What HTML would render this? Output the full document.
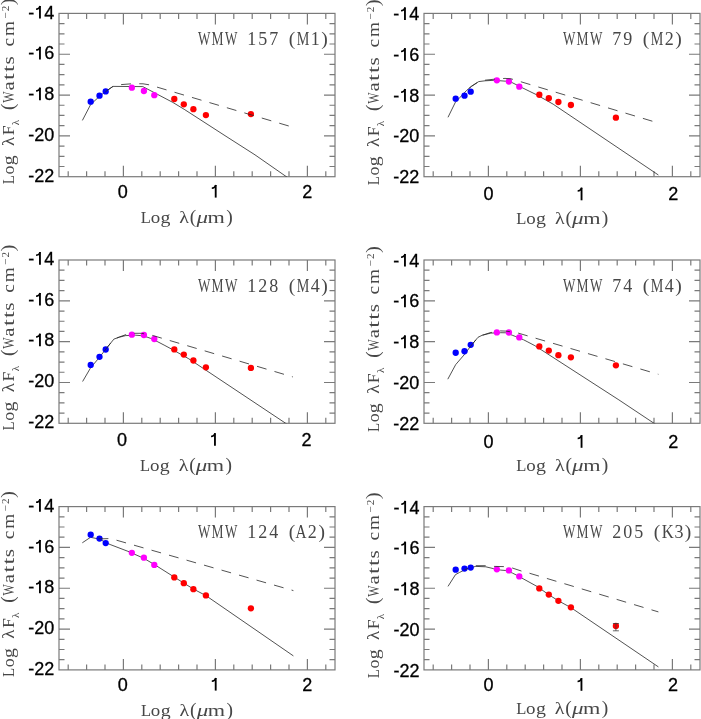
<!DOCTYPE html>
<html><head><meta charset="utf-8"><title>SED panels</title>
<style>
html,body{margin:0;padding:0;background:#fff;}
body{width:701px;height:719px;overflow:hidden;position:relative;}
svg{position:absolute;left:0;top:0;display:block;will-change:transform;}
.tl{font-family:"Liberation Sans",sans-serif;font-size:18px;fill:#000;stroke:#000;stroke-width:0.3px;}
.sf{font-family:"Liberation Serif",serif;fill:#474747;}
</style></head><body>
<svg width="701" height="719" viewBox="0 0 701 719">
<rect x="0" y="0" width="701" height="719" fill="#fff"/>
<clipPath id="cp0"><rect x="59" y="13.4" width="276" height="163.3"/></clipPath>
<clipPath id="cp1"><rect x="424" y="13.4" width="276" height="163.3"/></clipPath>
<clipPath id="cp2"><rect x="59" y="260" width="276" height="163.3"/></clipPath>
<clipPath id="cp3"><rect x="424" y="260" width="276" height="163.3"/></clipPath>
<clipPath id="cp4"><rect x="59" y="506.6" width="276" height="163.3"/></clipPath>
<clipPath id="cp5"><rect x="424" y="506.6" width="276" height="163.3"/></clipPath>
<g><rect x="59" y="13.4" width="276" height="163.3" fill="none" stroke="#7a7a7a" stroke-width="1.2"/><path d="M68.2 176.7v-5.5M68.2 13.4v5.5M86.6 176.7v-5.5M86.6 13.4v5.5M105 176.7v-5.5M105 13.4v5.5M123.4 176.7v-11M123.4 13.4v11M141.8 176.7v-5.5M141.8 13.4v5.5M160.2 176.7v-5.5M160.2 13.4v5.5M178.6 176.7v-5.5M178.6 13.4v5.5M197 176.7v-5.5M197 13.4v5.5M215.4 176.7v-11M215.4 13.4v11M233.8 176.7v-5.5M233.8 13.4v5.5M252.2 176.7v-5.5M252.2 13.4v5.5M270.6 176.7v-5.5M270.6 13.4v5.5M289 176.7v-5.5M289 13.4v5.5M307.4 176.7v-11M307.4 13.4v11M325.8 176.7v-5.5M325.8 13.4v5.5M59 23.61h5.5M335 23.61h-5.5M59 33.81h5.5M335 33.81h-5.5M59 44.02h5.5M335 44.02h-5.5M59 54.23h11M335 54.23h-11M59 64.43h5.5M335 64.43h-5.5M59 74.64h5.5M335 74.64h-5.5M59 84.84h5.5M335 84.84h-5.5M59 95.05h11M335 95.05h-11M59 105.26h5.5M335 105.26h-5.5M59 115.46h5.5M335 115.46h-5.5M59 125.67h5.5M335 125.67h-5.5M59 135.88h11M335 135.88h-11M59 146.08h5.5M335 146.08h-5.5M59 156.29h5.5M335 156.29h-5.5M59 166.49h5.5M335 166.49h-5.5" stroke="#7a7a7a" stroke-width="1.2" fill="none"/></g>
<text class="tl" x="28.3" y="18.6">-</text><path d="M39.95 6V18.6" stroke="#000" stroke-width="1.85" fill="none"/><path d="M36.05 9.25C37.75 9.15 39.35 8.4 40.15 6.05" stroke="#000" stroke-width="1.55" fill="none"/><text class="tl" x="54.3" y="18.6" text-anchor="end">4</text>
<text class="tl" x="28.3" y="59.43">-</text><path d="M39.95 46.83V59.43" stroke="#000" stroke-width="1.85" fill="none"/><path d="M36.05 50.08C37.75 49.98 39.35 49.23 40.15 46.88" stroke="#000" stroke-width="1.55" fill="none"/><text class="tl" x="54.3" y="59.43" text-anchor="end">6</text>
<text class="tl" x="28.3" y="100.25">-</text><path d="M39.95 87.65V100.25" stroke="#000" stroke-width="1.85" fill="none"/><path d="M36.05 90.9C37.75 90.8 39.35 90.05 40.15 87.7" stroke="#000" stroke-width="1.55" fill="none"/><text class="tl" x="54.3" y="100.25" text-anchor="end">8</text>
<text class="tl" x="54.3" y="141.07" text-anchor="end">-20</text>
<text class="tl" x="54.3" y="181.9" text-anchor="end">-22</text>
<text class="tl" x="122.7" y="197.6" text-anchor="middle">0</text>
<path d="M215.7 185V197.6" stroke="#000" stroke-width="1.85" fill="none"/><path d="M211.8 188.25C213.5 188.15 215.1 187.4 215.9 185.05" stroke="#000" stroke-width="1.55" fill="none"/>
<text class="tl" x="307.3" y="197.6" text-anchor="middle">2</text>
<polyline clip-path="url(#cp0)" points="82.4,120.4 90.6,104.6 99.5,96.3 105.7,91.5 113,86.4 142.8,86.6 157.4,94.3 172.8,102.4 184.8,109.7 226,136.3 255,154.85 286.1,176.5 293.5,181.7" fill="none" stroke="#262626" stroke-width="0.8" stroke-linejoin="round"/>
<circle cx="90.7" cy="101.7" r="3.15" fill="#0000ff"/><circle cx="99.5" cy="95.7" r="3.15" fill="#0000ff"/><circle cx="105.7" cy="91.4" r="3.15" fill="#0000ff"/><circle cx="250.9" cy="114.1" r="3.15" fill="#ff0000"/><circle cx="131.85" cy="87.7" r="3.15" fill="#ff00ff"/><circle cx="143.9" cy="91" r="3.15" fill="#ff00ff"/><circle cx="154.3" cy="95.2" r="3.15" fill="#ff00ff"/><circle cx="174.3" cy="99" r="3.15" fill="#ff0000"/><circle cx="183.8" cy="104.3" r="3.15" fill="#ff0000"/><circle cx="193.4" cy="109.2" r="3.15" fill="#ff0000"/><circle cx="205.9" cy="115.1" r="3.15" fill="#ff0000"/>
<polyline clip-path="url(#cp0)" points="103.3,94.6 105.7,91.5 113,86.4 121.1,84.6 133,83.7 143,83.8 149.2,84.8 289.5,126.2" fill="none" stroke="#262626" stroke-width="0.8" stroke-dasharray="9.9 8.3" stroke-dashoffset="15.28"/>
<text class="sf" font-size="18" x="198.1" y="45.2" textLength="12.4" lengthAdjust="spacingAndGlyphs">W</text><text class="sf" font-size="18" x="211.5" y="45.2" textLength="12" lengthAdjust="spacingAndGlyphs">M</text><text class="sf" font-size="18" x="225" y="45.2" textLength="12.4" lengthAdjust="spacingAndGlyphs">W</text><text class="sf" font-size="18" x="251.75" y="45.2" text-anchor="middle">1</text><text class="sf" font-size="18" x="262.75" y="45.2" text-anchor="middle">5</text><text class="sf" font-size="18" x="273.75" y="45.2" text-anchor="middle">7</text><text class="sf" font-size="19.5" x="292" y="45.2" text-anchor="middle">(</text><text class="sf" font-size="18" x="296.7" y="45.2" textLength="12.6" lengthAdjust="spacingAndGlyphs">M</text><text class="sf" font-size="18" x="315.3" y="45.2" text-anchor="middle">1</text><text class="sf" font-size="19.5" x="324.4" y="45.2" text-anchor="middle">)</text>
<text class="sf" font-size="17.5" x="140.75" y="222.7" textLength="10.1" lengthAdjust="spacingAndGlyphs">L</text><text class="sf" font-size="17.5" x="150.67" y="222.7" textLength="9.46" lengthAdjust="spacingAndGlyphs">o</text><text class="sf" font-size="17.5" x="160.45" y="222.7" textLength="9.9" lengthAdjust="spacingAndGlyphs">g</text><text class="sf" font-size="17.5" x="179.37" y="222.7" textLength="9.66" lengthAdjust="spacingAndGlyphs">λ</text><text class="sf" font-size="19.5" x="193.1" y="222.7" text-anchor="middle">(</text><text class="sf" font-size="17.5" x="196.52" y="222.7" font-style="italic" textLength="11.56" lengthAdjust="spacingAndGlyphs">μ</text><text class="sf" font-size="17.5" x="207.55" y="222.7" textLength="17.3" lengthAdjust="spacingAndGlyphs">m</text><text class="sf" font-size="19.5" x="229.5" y="222.7" text-anchor="middle">)</text>
<g transform="translate(14 183.7) rotate(-90)"><text class="sf" font-size="17.5" x="-0.58" y="0" textLength="9.16" lengthAdjust="spacingAndGlyphs">L</text><text class="sf" font-size="17.5" x="9.23" y="0" textLength="8.93" lengthAdjust="spacingAndGlyphs">o</text><text class="sf" font-size="17.5" x="18.35" y="0" textLength="10" lengthAdjust="spacingAndGlyphs">g</text><text class="sf" font-size="17.5" x="37.69" y="0" textLength="9.12" lengthAdjust="spacingAndGlyphs">λ</text><text class="sf" font-size="17.5" x="48.33" y="0" textLength="9.84" lengthAdjust="spacingAndGlyphs">F</text><text class="sf" font-size="19.5" x="77" y="0" text-anchor="middle">(</text><text class="sf" font-size="17.5" x="81" y="0" textLength="11.3" lengthAdjust="spacingAndGlyphs">W</text><text class="sf" font-size="17.5" x="93.19" y="0" textLength="9.23" lengthAdjust="spacingAndGlyphs">a</text><text class="sf" font-size="17.5" x="103.82" y="0" textLength="6.76" lengthAdjust="spacingAndGlyphs">t</text><text class="sf" font-size="17.5" x="111.82" y="0" textLength="6.76" lengthAdjust="spacingAndGlyphs">t</text><text class="sf" font-size="17.5" x="119.2" y="0" textLength="8.3" lengthAdjust="spacingAndGlyphs">s</text><text class="sf" font-size="17.5" x="137.1" y="0" textLength="8.49" lengthAdjust="spacingAndGlyphs">c</text><text class="sf" font-size="17.5" x="147.61" y="0" textLength="14.88" lengthAdjust="spacingAndGlyphs">m</text><text class="sf" font-size="19.5" x="181.9" y="0" text-anchor="middle">)</text>
<text class="sf" font-size="11" x="61.2" y="4.5" text-anchor="middle">λ</text>
<text class="sf" font-size="11" x="168" y="-5.2" text-anchor="middle">−</text><text class="sf" font-size="11" x="175.2" y="-5.2" text-anchor="middle">2</text>
</g>
<g><rect x="424" y="13.4" width="276" height="163.3" fill="none" stroke="#7a7a7a" stroke-width="1.2"/><path d="M433.2 176.7v-5.5M433.2 13.4v5.5M451.6 176.7v-5.5M451.6 13.4v5.5M470 176.7v-5.5M470 13.4v5.5M488.4 176.7v-11M488.4 13.4v11M506.8 176.7v-5.5M506.8 13.4v5.5M525.2 176.7v-5.5M525.2 13.4v5.5M543.6 176.7v-5.5M543.6 13.4v5.5M562 176.7v-5.5M562 13.4v5.5M580.4 176.7v-11M580.4 13.4v11M598.8 176.7v-5.5M598.8 13.4v5.5M617.2 176.7v-5.5M617.2 13.4v5.5M635.6 176.7v-5.5M635.6 13.4v5.5M654 176.7v-5.5M654 13.4v5.5M672.4 176.7v-11M672.4 13.4v11M690.8 176.7v-5.5M690.8 13.4v5.5M424 23.61h5.5M700 23.61h-5.5M424 33.81h5.5M700 33.81h-5.5M424 44.02h5.5M700 44.02h-5.5M424 54.23h11M700 54.23h-11M424 64.43h5.5M700 64.43h-5.5M424 74.64h5.5M700 74.64h-5.5M424 84.84h5.5M700 84.84h-5.5M424 95.05h11M700 95.05h-11M424 105.26h5.5M700 105.26h-5.5M424 115.46h5.5M700 115.46h-5.5M424 125.67h5.5M700 125.67h-5.5M424 135.88h11M700 135.88h-11M424 146.08h5.5M700 146.08h-5.5M424 156.29h5.5M700 156.29h-5.5M424 166.49h5.5M700 166.49h-5.5" stroke="#7a7a7a" stroke-width="1.2" fill="none"/></g>
<text class="tl" x="393.3" y="20">-</text><path d="M404.95 7.4V20" stroke="#000" stroke-width="1.85" fill="none"/><path d="M401.05 10.65C402.75 10.55 404.35 9.8 405.15 7.45" stroke="#000" stroke-width="1.55" fill="none"/><text class="tl" x="419.3" y="20" text-anchor="end">4</text>
<text class="tl" x="393.3" y="60.83">-</text><path d="M404.95 48.23V60.83" stroke="#000" stroke-width="1.85" fill="none"/><path d="M401.05 51.48C402.75 51.38 404.35 50.62 405.15 48.28" stroke="#000" stroke-width="1.55" fill="none"/><text class="tl" x="419.3" y="60.83" text-anchor="end">6</text>
<text class="tl" x="393.3" y="101.65">-</text><path d="M404.95 89.05V101.65" stroke="#000" stroke-width="1.85" fill="none"/><path d="M401.05 92.3C402.75 92.2 404.35 91.45 405.15 89.1" stroke="#000" stroke-width="1.55" fill="none"/><text class="tl" x="419.3" y="101.65" text-anchor="end">8</text>
<text class="tl" x="419.3" y="142.47" text-anchor="end">-20</text>
<text class="tl" x="419.3" y="183.3" text-anchor="end">-22</text>
<text class="tl" x="488.55" y="200.3" text-anchor="middle">0</text>
<path d="M581.55 187.7V200.3" stroke="#000" stroke-width="1.85" fill="none"/><path d="M577.65 190.95C579.35 190.85 580.95 190.1 581.75 187.75" stroke="#000" stroke-width="1.55" fill="none"/>
<text class="tl" x="673.15" y="200.3" text-anchor="middle">2</text>
<polyline clip-path="url(#cp1)" points="448,117.3 455.5,102 460.1,97.3 466.5,90.5 471.5,86.3 478.7,81.6 485,80.8 494.3,80.3 505.7,81.2 512.1,82.6 517.1,85.1 522.8,88 529.9,91.5 536.1,94.5 553.2,104.2 658.4,175" fill="none" stroke="#262626" stroke-width="0.8" stroke-linejoin="round"/>
<circle cx="455.7" cy="98.7" r="3.15" fill="#0000ff"/><circle cx="464.5" cy="95.7" r="3.15" fill="#0000ff"/><circle cx="470.7" cy="91.7" r="3.15" fill="#0000ff"/><circle cx="615.9" cy="117.7" r="3.15" fill="#ff0000"/><circle cx="496.85" cy="80.3" r="3.15" fill="#ff00ff"/><circle cx="508.9" cy="81.5" r="3.15" fill="#ff00ff"/><circle cx="519.3" cy="86.7" r="3.15" fill="#ff00ff"/><circle cx="539.3" cy="94.75" r="3.15" fill="#ff0000"/><circle cx="548.8" cy="98.25" r="3.15" fill="#ff0000"/><circle cx="558.4" cy="102" r="3.15" fill="#ff0000"/><circle cx="570.9" cy="105" r="3.15" fill="#ff0000"/>
<polyline clip-path="url(#cp1)" points="466.5,90.5 471.5,86.3 478.7,81.6 485,80.2 496,79 505,78.4 511,78.8 654,121.7" fill="none" stroke="#262626" stroke-width="0.8" stroke-dasharray="9.9 8.3" stroke-dashoffset="14.82"/>
<text class="sf" font-size="18" x="563.1" y="45.2" textLength="12.4" lengthAdjust="spacingAndGlyphs">W</text><text class="sf" font-size="18" x="576.5" y="45.2" textLength="12" lengthAdjust="spacingAndGlyphs">M</text><text class="sf" font-size="18" x="590" y="45.2" textLength="12.4" lengthAdjust="spacingAndGlyphs">W</text><text class="sf" font-size="18" x="616.75" y="45.2" text-anchor="middle">7</text><text class="sf" font-size="18" x="627.75" y="45.2" text-anchor="middle">9</text><text class="sf" font-size="19.5" x="646" y="45.2" text-anchor="middle">(</text><text class="sf" font-size="18" x="650.7" y="45.2" textLength="12.6" lengthAdjust="spacingAndGlyphs">M</text><text class="sf" font-size="18" x="669.3" y="45.2" text-anchor="middle">2</text><text class="sf" font-size="19.5" x="678.4" y="45.2" text-anchor="middle">)</text>
<text class="sf" font-size="17.5" x="516.35" y="223.7" textLength="10.1" lengthAdjust="spacingAndGlyphs">L</text><text class="sf" font-size="17.5" x="526.27" y="223.7" textLength="9.46" lengthAdjust="spacingAndGlyphs">o</text><text class="sf" font-size="17.5" x="536.05" y="223.7" textLength="9.9" lengthAdjust="spacingAndGlyphs">g</text><text class="sf" font-size="17.5" x="554.97" y="223.7" textLength="9.66" lengthAdjust="spacingAndGlyphs">λ</text><text class="sf" font-size="19.5" x="568.7" y="223.7" text-anchor="middle">(</text><text class="sf" font-size="17.5" x="572.12" y="223.7" font-style="italic" textLength="11.56" lengthAdjust="spacingAndGlyphs">μ</text><text class="sf" font-size="17.5" x="583.15" y="223.7" textLength="17.3" lengthAdjust="spacingAndGlyphs">m</text><text class="sf" font-size="19.5" x="605.1" y="223.7" text-anchor="middle">)</text>
<g transform="translate(379.2 184.7) rotate(-90)"><text class="sf" font-size="17.5" x="-0.58" y="0" textLength="9.16" lengthAdjust="spacingAndGlyphs">L</text><text class="sf" font-size="17.5" x="9.23" y="0" textLength="8.93" lengthAdjust="spacingAndGlyphs">o</text><text class="sf" font-size="17.5" x="18.35" y="0" textLength="10" lengthAdjust="spacingAndGlyphs">g</text><text class="sf" font-size="17.5" x="37.69" y="0" textLength="9.12" lengthAdjust="spacingAndGlyphs">λ</text><text class="sf" font-size="17.5" x="48.33" y="0" textLength="9.84" lengthAdjust="spacingAndGlyphs">F</text><text class="sf" font-size="19.5" x="77" y="0" text-anchor="middle">(</text><text class="sf" font-size="17.5" x="81" y="0" textLength="11.3" lengthAdjust="spacingAndGlyphs">W</text><text class="sf" font-size="17.5" x="93.19" y="0" textLength="9.23" lengthAdjust="spacingAndGlyphs">a</text><text class="sf" font-size="17.5" x="103.82" y="0" textLength="6.76" lengthAdjust="spacingAndGlyphs">t</text><text class="sf" font-size="17.5" x="111.82" y="0" textLength="6.76" lengthAdjust="spacingAndGlyphs">t</text><text class="sf" font-size="17.5" x="119.2" y="0" textLength="8.3" lengthAdjust="spacingAndGlyphs">s</text><text class="sf" font-size="17.5" x="137.1" y="0" textLength="8.49" lengthAdjust="spacingAndGlyphs">c</text><text class="sf" font-size="17.5" x="147.61" y="0" textLength="14.88" lengthAdjust="spacingAndGlyphs">m</text><text class="sf" font-size="19.5" x="181.9" y="0" text-anchor="middle">)</text>
<text class="sf" font-size="11" x="61.2" y="4.5" text-anchor="middle">λ</text>
<text class="sf" font-size="11" x="168" y="-5.2" text-anchor="middle">−</text><text class="sf" font-size="11" x="175.2" y="-5.2" text-anchor="middle">2</text>
</g>
<g><rect x="59" y="260" width="276" height="163.3" fill="none" stroke="#7a7a7a" stroke-width="1.2"/><path d="M68.2 423.3v-5.5M68.2 260v5.5M86.6 423.3v-5.5M86.6 260v5.5M105 423.3v-5.5M105 260v5.5M123.4 423.3v-11M123.4 260v11M141.8 423.3v-5.5M141.8 260v5.5M160.2 423.3v-5.5M160.2 260v5.5M178.6 423.3v-5.5M178.6 260v5.5M197 423.3v-5.5M197 260v5.5M215.4 423.3v-11M215.4 260v11M233.8 423.3v-5.5M233.8 260v5.5M252.2 423.3v-5.5M252.2 260v5.5M270.6 423.3v-5.5M270.6 260v5.5M289 423.3v-5.5M289 260v5.5M307.4 423.3v-11M307.4 260v11M325.8 423.3v-5.5M325.8 260v5.5M59 270.21h5.5M335 270.21h-5.5M59 280.41h5.5M335 280.41h-5.5M59 290.62h5.5M335 290.62h-5.5M59 300.82h11M335 300.82h-11M59 311.03h5.5M335 311.03h-5.5M59 321.24h5.5M335 321.24h-5.5M59 331.44h5.5M335 331.44h-5.5M59 341.65h11M335 341.65h-11M59 351.86h5.5M335 351.86h-5.5M59 362.06h5.5M335 362.06h-5.5M59 372.27h5.5M335 372.27h-5.5M59 382.48h11M335 382.48h-11M59 392.68h5.5M335 392.68h-5.5M59 402.89h5.5M335 402.89h-5.5M59 413.09h5.5M335 413.09h-5.5" stroke="#7a7a7a" stroke-width="1.2" fill="none"/></g>
<text class="tl" x="28.3" y="264.7">-</text><path d="M39.95 252.1V264.7" stroke="#000" stroke-width="1.85" fill="none"/><path d="M36.05 255.35C37.75 255.25 39.35 254.5 40.15 252.15" stroke="#000" stroke-width="1.55" fill="none"/><text class="tl" x="54.3" y="264.7" text-anchor="end">4</text>
<text class="tl" x="28.3" y="305.52">-</text><path d="M39.95 292.92V305.52" stroke="#000" stroke-width="1.85" fill="none"/><path d="M36.05 296.17C37.75 296.07 39.35 295.32 40.15 292.97" stroke="#000" stroke-width="1.55" fill="none"/><text class="tl" x="54.3" y="305.52" text-anchor="end">6</text>
<text class="tl" x="28.3" y="346.35">-</text><path d="M39.95 333.75V346.35" stroke="#000" stroke-width="1.85" fill="none"/><path d="M36.05 337C37.75 336.9 39.35 336.15 40.15 333.8" stroke="#000" stroke-width="1.55" fill="none"/><text class="tl" x="54.3" y="346.35" text-anchor="end">8</text>
<text class="tl" x="54.3" y="387.18" text-anchor="end">-20</text>
<text class="tl" x="54.3" y="428" text-anchor="end">-22</text>
<text class="tl" x="121.95" y="445.8" text-anchor="middle">0</text>
<path d="M214.95 433.2V445.8" stroke="#000" stroke-width="1.85" fill="none"/><path d="M211.05 436.45C212.75 436.35 214.35 435.6 215.15 433.25" stroke="#000" stroke-width="1.55" fill="none"/>
<text class="tl" x="306.55" y="445.8" text-anchor="middle">2</text>
<polyline clip-path="url(#cp2)" points="82.6,381.5 90.6,367.8 99.4,357.4 105.9,349 113.9,339.1 119.3,337.2 125.7,335.6 135.7,335.2 140.7,335.6 147.1,337.1 150.7,338.4 157.8,341.8 164.9,345.5 171.6,349.1 188.8,358.8 293.5,428.5" fill="none" stroke="#262626" stroke-width="0.8" stroke-linejoin="round"/>
<circle cx="90.7" cy="364.9" r="3.15" fill="#0000ff"/><circle cx="99.5" cy="356.8" r="3.15" fill="#0000ff"/><circle cx="105.7" cy="349.5" r="3.15" fill="#0000ff"/><circle cx="250.9" cy="367.9" r="3.15" fill="#ff0000"/><circle cx="131.85" cy="334.7" r="3.15" fill="#ff00ff"/><circle cx="143.9" cy="335" r="3.15" fill="#ff00ff"/><circle cx="154.3" cy="339" r="3.15" fill="#ff00ff"/><circle cx="174.3" cy="349.4" r="3.15" fill="#ff0000"/><circle cx="183.8" cy="354.6" r="3.15" fill="#ff0000"/><circle cx="193.4" cy="360.5" r="3.15" fill="#ff0000"/><circle cx="205.9" cy="367.3" r="3.15" fill="#ff0000"/>
<polyline clip-path="url(#cp2)" points="99.4,357.4 105.9,349 113.9,339.1 119.3,337 126,334.6 134.3,333.3 141.4,333.3 151.4,335.1 292.8,376.9" fill="none" stroke="#262626" stroke-width="0.8" stroke-dasharray="9.9 8.3" stroke-dashoffset="9.94"/>
<text class="sf" font-size="18" x="198.1" y="291.8" textLength="12.4" lengthAdjust="spacingAndGlyphs">W</text><text class="sf" font-size="18" x="211.5" y="291.8" textLength="12" lengthAdjust="spacingAndGlyphs">M</text><text class="sf" font-size="18" x="225" y="291.8" textLength="12.4" lengthAdjust="spacingAndGlyphs">W</text><text class="sf" font-size="18" x="251.75" y="291.8" text-anchor="middle">1</text><text class="sf" font-size="18" x="262.75" y="291.8" text-anchor="middle">2</text><text class="sf" font-size="18" x="273.75" y="291.8" text-anchor="middle">8</text><text class="sf" font-size="19.5" x="292" y="291.8" text-anchor="middle">(</text><text class="sf" font-size="18" x="296.7" y="291.8" textLength="12.6" lengthAdjust="spacingAndGlyphs">M</text><text class="sf" font-size="18" x="315.3" y="291.8" text-anchor="middle">4</text><text class="sf" font-size="19.5" x="324.4" y="291.8" text-anchor="middle">)</text>
<text class="sf" font-size="17.5" x="140.05" y="470.8" textLength="10.1" lengthAdjust="spacingAndGlyphs">L</text><text class="sf" font-size="17.5" x="149.97" y="470.8" textLength="9.46" lengthAdjust="spacingAndGlyphs">o</text><text class="sf" font-size="17.5" x="159.75" y="470.8" textLength="9.9" lengthAdjust="spacingAndGlyphs">g</text><text class="sf" font-size="17.5" x="178.67" y="470.8" textLength="9.66" lengthAdjust="spacingAndGlyphs">λ</text><text class="sf" font-size="19.5" x="192.4" y="470.8" text-anchor="middle">(</text><text class="sf" font-size="17.5" x="195.82" y="470.8" font-style="italic" textLength="11.56" lengthAdjust="spacingAndGlyphs">μ</text><text class="sf" font-size="17.5" x="206.85" y="470.8" textLength="17.3" lengthAdjust="spacingAndGlyphs">m</text><text class="sf" font-size="19.5" x="228.8" y="470.8" text-anchor="middle">)</text>
<g transform="translate(14 429.85) rotate(-90)"><text class="sf" font-size="17.5" x="-0.58" y="0" textLength="9.16" lengthAdjust="spacingAndGlyphs">L</text><text class="sf" font-size="17.5" x="9.23" y="0" textLength="8.93" lengthAdjust="spacingAndGlyphs">o</text><text class="sf" font-size="17.5" x="18.35" y="0" textLength="10" lengthAdjust="spacingAndGlyphs">g</text><text class="sf" font-size="17.5" x="37.69" y="0" textLength="9.12" lengthAdjust="spacingAndGlyphs">λ</text><text class="sf" font-size="17.5" x="48.33" y="0" textLength="9.84" lengthAdjust="spacingAndGlyphs">F</text><text class="sf" font-size="19.5" x="77" y="0" text-anchor="middle">(</text><text class="sf" font-size="17.5" x="81" y="0" textLength="11.3" lengthAdjust="spacingAndGlyphs">W</text><text class="sf" font-size="17.5" x="93.19" y="0" textLength="9.23" lengthAdjust="spacingAndGlyphs">a</text><text class="sf" font-size="17.5" x="103.82" y="0" textLength="6.76" lengthAdjust="spacingAndGlyphs">t</text><text class="sf" font-size="17.5" x="111.82" y="0" textLength="6.76" lengthAdjust="spacingAndGlyphs">t</text><text class="sf" font-size="17.5" x="119.2" y="0" textLength="8.3" lengthAdjust="spacingAndGlyphs">s</text><text class="sf" font-size="17.5" x="137.1" y="0" textLength="8.49" lengthAdjust="spacingAndGlyphs">c</text><text class="sf" font-size="17.5" x="147.61" y="0" textLength="14.88" lengthAdjust="spacingAndGlyphs">m</text><text class="sf" font-size="19.5" x="181.9" y="0" text-anchor="middle">)</text>
<text class="sf" font-size="11" x="61.2" y="4.5" text-anchor="middle">λ</text>
<text class="sf" font-size="11" x="168" y="-5.2" text-anchor="middle">−</text><text class="sf" font-size="11" x="175.2" y="-5.2" text-anchor="middle">2</text>
</g>
<g><rect x="424" y="260" width="276" height="163.3" fill="none" stroke="#7a7a7a" stroke-width="1.2"/><path d="M433.2 423.3v-5.5M433.2 260v5.5M451.6 423.3v-5.5M451.6 260v5.5M470 423.3v-5.5M470 260v5.5M488.4 423.3v-11M488.4 260v11M506.8 423.3v-5.5M506.8 260v5.5M525.2 423.3v-5.5M525.2 260v5.5M543.6 423.3v-5.5M543.6 260v5.5M562 423.3v-5.5M562 260v5.5M580.4 423.3v-11M580.4 260v11M598.8 423.3v-5.5M598.8 260v5.5M617.2 423.3v-5.5M617.2 260v5.5M635.6 423.3v-5.5M635.6 260v5.5M654 423.3v-5.5M654 260v5.5M672.4 423.3v-11M672.4 260v11M690.8 423.3v-5.5M690.8 260v5.5M424 270.21h5.5M700 270.21h-5.5M424 280.41h5.5M700 280.41h-5.5M424 290.62h5.5M700 290.62h-5.5M424 300.82h11M700 300.82h-11M424 311.03h5.5M700 311.03h-5.5M424 321.24h5.5M700 321.24h-5.5M424 331.44h5.5M700 331.44h-5.5M424 341.65h11M700 341.65h-11M424 351.86h5.5M700 351.86h-5.5M424 362.06h5.5M700 362.06h-5.5M424 372.27h5.5M700 372.27h-5.5M424 382.48h11M700 382.48h-11M424 392.68h5.5M700 392.68h-5.5M424 402.89h5.5M700 402.89h-5.5M424 413.09h5.5M700 413.09h-5.5" stroke="#7a7a7a" stroke-width="1.2" fill="none"/></g>
<text class="tl" x="393.3" y="266.5">-</text><path d="M404.95 253.9V266.5" stroke="#000" stroke-width="1.85" fill="none"/><path d="M401.05 257.15C402.75 257.05 404.35 256.3 405.15 253.95" stroke="#000" stroke-width="1.55" fill="none"/><text class="tl" x="419.3" y="266.5" text-anchor="end">4</text>
<text class="tl" x="393.3" y="307.32">-</text><path d="M404.95 294.72V307.32" stroke="#000" stroke-width="1.85" fill="none"/><path d="M401.05 297.97C402.75 297.88 404.35 297.12 405.15 294.77" stroke="#000" stroke-width="1.55" fill="none"/><text class="tl" x="419.3" y="307.32" text-anchor="end">6</text>
<text class="tl" x="393.3" y="348.15">-</text><path d="M404.95 335.55V348.15" stroke="#000" stroke-width="1.85" fill="none"/><path d="M401.05 338.8C402.75 338.7 404.35 337.95 405.15 335.6" stroke="#000" stroke-width="1.55" fill="none"/><text class="tl" x="419.3" y="348.15" text-anchor="end">8</text>
<text class="tl" x="419.3" y="388.98" text-anchor="end">-20</text>
<text class="tl" x="419.3" y="429.8" text-anchor="end">-22</text>
<text class="tl" x="488.55" y="447.8" text-anchor="middle">0</text>
<path d="M581.55 435.2V447.8" stroke="#000" stroke-width="1.85" fill="none"/><path d="M577.65 438.45C579.35 438.35 580.95 437.6 581.75 435.25" stroke="#000" stroke-width="1.55" fill="none"/>
<text class="tl" x="673.15" y="447.8" text-anchor="middle">2</text>
<polyline clip-path="url(#cp3)" points="447.8,379.2 455.7,364.6 464.6,354.3 470.7,346.1 478,337.3 482.3,335.2 490.8,333.1 500.8,332.7 505.8,332.8 512.2,335.2 515.8,336.6 523.6,339.8 527.9,342 534.9,345.7 618.9,399.9 658.4,426.2" fill="none" stroke="#262626" stroke-width="0.8" stroke-linejoin="round"/>
<circle cx="455.7" cy="352.75" r="3.15" fill="#0000ff"/><circle cx="464.5" cy="351.25" r="3.15" fill="#0000ff"/><circle cx="470.7" cy="344.8" r="3.15" fill="#0000ff"/><circle cx="615.9" cy="365.3" r="3.15" fill="#ff0000"/><circle cx="496.85" cy="332.4" r="3.15" fill="#ff00ff"/><circle cx="508.9" cy="332.5" r="3.15" fill="#ff00ff"/><circle cx="519.3" cy="337.4" r="3.15" fill="#ff00ff"/><circle cx="539.3" cy="346.4" r="3.15" fill="#ff0000"/><circle cx="548.8" cy="350.6" r="3.15" fill="#ff0000"/><circle cx="558.4" cy="355.2" r="3.15" fill="#ff0000"/><circle cx="570.9" cy="357.3" r="3.15" fill="#ff0000"/>
<polyline clip-path="url(#cp3)" points="464.6,354.3 470.7,346.1 478,337.3 482.3,335.3 490.1,332.7 500.1,330.9 505.8,331.1 516.5,332.6 658.4,374.3" fill="none" stroke="#262626" stroke-width="0.8" stroke-dasharray="9.9 8.3" stroke-dashoffset="9.82"/>
<text class="sf" font-size="18" x="563.1" y="291.8" textLength="12.4" lengthAdjust="spacingAndGlyphs">W</text><text class="sf" font-size="18" x="576.5" y="291.8" textLength="12" lengthAdjust="spacingAndGlyphs">M</text><text class="sf" font-size="18" x="590" y="291.8" textLength="12.4" lengthAdjust="spacingAndGlyphs">W</text><text class="sf" font-size="18" x="616.75" y="291.8" text-anchor="middle">7</text><text class="sf" font-size="18" x="627.75" y="291.8" text-anchor="middle">4</text><text class="sf" font-size="19.5" x="646" y="291.8" text-anchor="middle">(</text><text class="sf" font-size="18" x="650.7" y="291.8" textLength="12.6" lengthAdjust="spacingAndGlyphs">M</text><text class="sf" font-size="18" x="669.3" y="291.8" text-anchor="middle">4</text><text class="sf" font-size="19.5" x="678.4" y="291.8" text-anchor="middle">)</text>
<text class="sf" font-size="17.5" x="516.35" y="470.7" textLength="10.1" lengthAdjust="spacingAndGlyphs">L</text><text class="sf" font-size="17.5" x="526.27" y="470.7" textLength="9.46" lengthAdjust="spacingAndGlyphs">o</text><text class="sf" font-size="17.5" x="536.05" y="470.7" textLength="9.9" lengthAdjust="spacingAndGlyphs">g</text><text class="sf" font-size="17.5" x="554.97" y="470.7" textLength="9.66" lengthAdjust="spacingAndGlyphs">λ</text><text class="sf" font-size="19.5" x="568.7" y="470.7" text-anchor="middle">(</text><text class="sf" font-size="17.5" x="572.12" y="470.7" font-style="italic" textLength="11.56" lengthAdjust="spacingAndGlyphs">μ</text><text class="sf" font-size="17.5" x="583.15" y="470.7" textLength="17.3" lengthAdjust="spacingAndGlyphs">m</text><text class="sf" font-size="19.5" x="605.1" y="470.7" text-anchor="middle">)</text>
<g transform="translate(379.2 431.5) rotate(-90)"><text class="sf" font-size="17.5" x="-0.58" y="0" textLength="9.16" lengthAdjust="spacingAndGlyphs">L</text><text class="sf" font-size="17.5" x="9.23" y="0" textLength="8.93" lengthAdjust="spacingAndGlyphs">o</text><text class="sf" font-size="17.5" x="18.35" y="0" textLength="10" lengthAdjust="spacingAndGlyphs">g</text><text class="sf" font-size="17.5" x="37.69" y="0" textLength="9.12" lengthAdjust="spacingAndGlyphs">λ</text><text class="sf" font-size="17.5" x="48.33" y="0" textLength="9.84" lengthAdjust="spacingAndGlyphs">F</text><text class="sf" font-size="19.5" x="77" y="0" text-anchor="middle">(</text><text class="sf" font-size="17.5" x="81" y="0" textLength="11.3" lengthAdjust="spacingAndGlyphs">W</text><text class="sf" font-size="17.5" x="93.19" y="0" textLength="9.23" lengthAdjust="spacingAndGlyphs">a</text><text class="sf" font-size="17.5" x="103.82" y="0" textLength="6.76" lengthAdjust="spacingAndGlyphs">t</text><text class="sf" font-size="17.5" x="111.82" y="0" textLength="6.76" lengthAdjust="spacingAndGlyphs">t</text><text class="sf" font-size="17.5" x="119.2" y="0" textLength="8.3" lengthAdjust="spacingAndGlyphs">s</text><text class="sf" font-size="17.5" x="137.1" y="0" textLength="8.49" lengthAdjust="spacingAndGlyphs">c</text><text class="sf" font-size="17.5" x="147.61" y="0" textLength="14.88" lengthAdjust="spacingAndGlyphs">m</text><text class="sf" font-size="19.5" x="181.9" y="0" text-anchor="middle">)</text>
<text class="sf" font-size="11" x="61.2" y="4.5" text-anchor="middle">λ</text>
<text class="sf" font-size="11" x="168" y="-5.2" text-anchor="middle">−</text><text class="sf" font-size="11" x="175.2" y="-5.2" text-anchor="middle">2</text>
</g>
<g><rect x="59" y="506.6" width="276" height="163.3" fill="none" stroke="#7a7a7a" stroke-width="1.2"/><path d="M68.2 669.9v-5.5M68.2 506.6v5.5M86.6 669.9v-5.5M86.6 506.6v5.5M105 669.9v-5.5M105 506.6v5.5M123.4 669.9v-11M123.4 506.6v11M141.8 669.9v-5.5M141.8 506.6v5.5M160.2 669.9v-5.5M160.2 506.6v5.5M178.6 669.9v-5.5M178.6 506.6v5.5M197 669.9v-5.5M197 506.6v5.5M215.4 669.9v-11M215.4 506.6v11M233.8 669.9v-5.5M233.8 506.6v5.5M252.2 669.9v-5.5M252.2 506.6v5.5M270.6 669.9v-5.5M270.6 506.6v5.5M289 669.9v-5.5M289 506.6v5.5M307.4 669.9v-11M307.4 506.6v11M325.8 669.9v-5.5M325.8 506.6v5.5M59 516.81h5.5M335 516.81h-5.5M59 527.01h5.5M335 527.01h-5.5M59 537.22h5.5M335 537.22h-5.5M59 547.42h11M335 547.42h-11M59 557.63h5.5M335 557.63h-5.5M59 567.84h5.5M335 567.84h-5.5M59 578.04h5.5M335 578.04h-5.5M59 588.25h11M335 588.25h-11M59 598.46h5.5M335 598.46h-5.5M59 608.66h5.5M335 608.66h-5.5M59 618.87h5.5M335 618.87h-5.5M59 629.07h11M335 629.07h-11M59 639.28h5.5M335 639.28h-5.5M59 649.49h5.5M335 649.49h-5.5M59 659.69h5.5M335 659.69h-5.5" stroke="#7a7a7a" stroke-width="1.2" fill="none"/></g>
<text class="tl" x="28.3" y="511.7">-</text><path d="M39.95 499.1V511.7" stroke="#000" stroke-width="1.85" fill="none"/><path d="M36.05 502.35C37.75 502.25 39.35 501.5 40.15 499.15" stroke="#000" stroke-width="1.55" fill="none"/><text class="tl" x="54.3" y="511.7" text-anchor="end">4</text>
<text class="tl" x="28.3" y="552.52">-</text><path d="M39.95 539.92V552.52" stroke="#000" stroke-width="1.85" fill="none"/><path d="M36.05 543.17C37.75 543.07 39.35 542.32 40.15 539.98" stroke="#000" stroke-width="1.55" fill="none"/><text class="tl" x="54.3" y="552.52" text-anchor="end">6</text>
<text class="tl" x="28.3" y="593.35">-</text><path d="M39.95 580.75V593.35" stroke="#000" stroke-width="1.85" fill="none"/><path d="M36.05 584C37.75 583.9 39.35 583.15 40.15 580.8" stroke="#000" stroke-width="1.55" fill="none"/><text class="tl" x="54.3" y="593.35" text-anchor="end">8</text>
<text class="tl" x="54.3" y="634.17" text-anchor="end">-20</text>
<text class="tl" x="54.3" y="675" text-anchor="end">-22</text>
<text class="tl" x="122.7" y="690.6" text-anchor="middle">0</text>
<path d="M215.7 678V690.6" stroke="#000" stroke-width="1.85" fill="none"/><path d="M211.8 681.25C213.5 681.15 215.1 680.4 215.9 678.05" stroke="#000" stroke-width="1.55" fill="none"/>
<text class="tl" x="307.3" y="690.6" text-anchor="middle">2</text>
<polyline clip-path="url(#cp4)" points="82.3,542.8 90.5,537.3 99.4,539.1 105.5,542.3 110.1,544.5 127.9,551.3 143.8,558.3 154.5,564.6 174.3,577.1 183.8,583.1 193.4,589 205.9,595.6 293.4,655.9" fill="none" stroke="#262626" stroke-width="0.8" stroke-linejoin="round"/>
<circle cx="90.7" cy="534.7" r="3.15" fill="#0000ff"/><circle cx="99.5" cy="538.6" r="3.15" fill="#0000ff"/><circle cx="105.7" cy="543.1" r="3.15" fill="#0000ff"/><circle cx="250.9" cy="608.3" r="3.15" fill="#ff0000"/><circle cx="131.85" cy="552.8" r="3.15" fill="#ff00ff"/><circle cx="143.9" cy="557.7" r="3.15" fill="#ff00ff"/><circle cx="154.3" cy="564.9" r="3.15" fill="#ff00ff"/><circle cx="174.3" cy="577.4" r="3.15" fill="#ff0000"/><circle cx="183.8" cy="583.2" r="3.15" fill="#ff0000"/><circle cx="193.4" cy="589.2" r="3.15" fill="#ff0000"/><circle cx="205.9" cy="595.4" r="3.15" fill="#ff0000"/>
<polyline clip-path="url(#cp4)" points="98.5,538.9 108.7,538.6 116.5,540.2 293.4,590.6" fill="none" stroke="#262626" stroke-width="0.8" stroke-dasharray="9.9 8.3" stroke-dashoffset="0.03"/>
<text class="sf" font-size="18" x="198.1" y="538.4" textLength="12.4" lengthAdjust="spacingAndGlyphs">W</text><text class="sf" font-size="18" x="211.5" y="538.4" textLength="12" lengthAdjust="spacingAndGlyphs">M</text><text class="sf" font-size="18" x="225" y="538.4" textLength="12.4" lengthAdjust="spacingAndGlyphs">W</text><text class="sf" font-size="18" x="251.75" y="538.4" text-anchor="middle">1</text><text class="sf" font-size="18" x="262.75" y="538.4" text-anchor="middle">2</text><text class="sf" font-size="18" x="273.75" y="538.4" text-anchor="middle">4</text><text class="sf" font-size="19.5" x="292" y="538.4" text-anchor="middle">(</text><text class="sf" font-size="18" x="295.45" y="538.4" textLength="11" lengthAdjust="spacingAndGlyphs">A</text><text class="sf" font-size="18" x="312.25" y="538.4" text-anchor="middle">2</text><text class="sf" font-size="19.5" x="321.65" y="538.4" text-anchor="middle">)</text>
<text class="sf" font-size="17.5" x="140.95" y="715.7" textLength="10.1" lengthAdjust="spacingAndGlyphs">L</text><text class="sf" font-size="17.5" x="150.87" y="715.7" textLength="9.46" lengthAdjust="spacingAndGlyphs">o</text><text class="sf" font-size="17.5" x="160.65" y="715.7" textLength="9.9" lengthAdjust="spacingAndGlyphs">g</text><text class="sf" font-size="17.5" x="179.57" y="715.7" textLength="9.66" lengthAdjust="spacingAndGlyphs">λ</text><text class="sf" font-size="19.5" x="193.3" y="715.7" text-anchor="middle">(</text><text class="sf" font-size="17.5" x="196.72" y="715.7" font-style="italic" textLength="11.56" lengthAdjust="spacingAndGlyphs">μ</text><text class="sf" font-size="17.5" x="207.75" y="715.7" textLength="17.3" lengthAdjust="spacingAndGlyphs">m</text><text class="sf" font-size="19.5" x="229.7" y="715.7" text-anchor="middle">)</text>
<g transform="translate(14 676.4) rotate(-90)"><text class="sf" font-size="17.5" x="-0.58" y="0" textLength="9.16" lengthAdjust="spacingAndGlyphs">L</text><text class="sf" font-size="17.5" x="9.23" y="0" textLength="8.93" lengthAdjust="spacingAndGlyphs">o</text><text class="sf" font-size="17.5" x="18.35" y="0" textLength="10" lengthAdjust="spacingAndGlyphs">g</text><text class="sf" font-size="17.5" x="37.69" y="0" textLength="9.12" lengthAdjust="spacingAndGlyphs">λ</text><text class="sf" font-size="17.5" x="48.33" y="0" textLength="9.84" lengthAdjust="spacingAndGlyphs">F</text><text class="sf" font-size="19.5" x="77" y="0" text-anchor="middle">(</text><text class="sf" font-size="17.5" x="81" y="0" textLength="11.3" lengthAdjust="spacingAndGlyphs">W</text><text class="sf" font-size="17.5" x="93.19" y="0" textLength="9.23" lengthAdjust="spacingAndGlyphs">a</text><text class="sf" font-size="17.5" x="103.82" y="0" textLength="6.76" lengthAdjust="spacingAndGlyphs">t</text><text class="sf" font-size="17.5" x="111.82" y="0" textLength="6.76" lengthAdjust="spacingAndGlyphs">t</text><text class="sf" font-size="17.5" x="119.2" y="0" textLength="8.3" lengthAdjust="spacingAndGlyphs">s</text><text class="sf" font-size="17.5" x="137.1" y="0" textLength="8.49" lengthAdjust="spacingAndGlyphs">c</text><text class="sf" font-size="17.5" x="147.61" y="0" textLength="14.88" lengthAdjust="spacingAndGlyphs">m</text><text class="sf" font-size="19.5" x="181.9" y="0" text-anchor="middle">)</text>
<text class="sf" font-size="11" x="61.2" y="4.5" text-anchor="middle">λ</text>
<text class="sf" font-size="11" x="168" y="-5.2" text-anchor="middle">−</text><text class="sf" font-size="11" x="175.2" y="-5.2" text-anchor="middle">2</text>
</g>
<g><rect x="424" y="506.6" width="276" height="163.3" fill="none" stroke="#7a7a7a" stroke-width="1.2"/><path d="M433.2 669.9v-5.5M433.2 506.6v5.5M451.6 669.9v-5.5M451.6 506.6v5.5M470 669.9v-5.5M470 506.6v5.5M488.4 669.9v-11M488.4 506.6v11M506.8 669.9v-5.5M506.8 506.6v5.5M525.2 669.9v-5.5M525.2 506.6v5.5M543.6 669.9v-5.5M543.6 506.6v5.5M562 669.9v-5.5M562 506.6v5.5M580.4 669.9v-11M580.4 506.6v11M598.8 669.9v-5.5M598.8 506.6v5.5M617.2 669.9v-5.5M617.2 506.6v5.5M635.6 669.9v-5.5M635.6 506.6v5.5M654 669.9v-5.5M654 506.6v5.5M672.4 669.9v-11M672.4 506.6v11M690.8 669.9v-5.5M690.8 506.6v5.5M424 516.81h5.5M700 516.81h-5.5M424 527.01h5.5M700 527.01h-5.5M424 537.22h5.5M700 537.22h-5.5M424 547.42h11M700 547.42h-11M424 557.63h5.5M700 557.63h-5.5M424 567.84h5.5M700 567.84h-5.5M424 578.04h5.5M700 578.04h-5.5M424 588.25h11M700 588.25h-11M424 598.46h5.5M700 598.46h-5.5M424 608.66h5.5M700 608.66h-5.5M424 618.87h5.5M700 618.87h-5.5M424 629.07h11M700 629.07h-11M424 639.28h5.5M700 639.28h-5.5M424 649.49h5.5M700 649.49h-5.5M424 659.69h5.5M700 659.69h-5.5" stroke="#7a7a7a" stroke-width="1.2" fill="none"/></g>
<text class="tl" x="393.5" y="513.5">-</text><path d="M405.15 500.9V513.5" stroke="#000" stroke-width="1.85" fill="none"/><path d="M401.25 504.15C402.95 504.05 404.55 503.3 405.35 500.95" stroke="#000" stroke-width="1.55" fill="none"/><text class="tl" x="419.5" y="513.5" text-anchor="end">4</text>
<text class="tl" x="393.5" y="554.33">-</text><path d="M405.15 541.73V554.33" stroke="#000" stroke-width="1.85" fill="none"/><path d="M401.25 544.98C402.95 544.88 404.55 544.12 405.35 541.78" stroke="#000" stroke-width="1.55" fill="none"/><text class="tl" x="419.5" y="554.33" text-anchor="end">6</text>
<text class="tl" x="393.5" y="595.15">-</text><path d="M405.15 582.55V595.15" stroke="#000" stroke-width="1.85" fill="none"/><path d="M401.25 585.8C402.95 585.7 404.55 584.95 405.35 582.6" stroke="#000" stroke-width="1.55" fill="none"/><text class="tl" x="419.5" y="595.15" text-anchor="end">8</text>
<text class="tl" x="419.5" y="635.98" text-anchor="end">-20</text>
<text class="tl" x="419.5" y="676.8" text-anchor="end">-22</text>
<text class="tl" x="488.45" y="690.8" text-anchor="middle">0</text>
<path d="M581.45 678.2V690.8" stroke="#000" stroke-width="1.85" fill="none"/><path d="M577.55 681.45C579.25 681.35 580.85 680.6 581.65 678.25" stroke="#000" stroke-width="1.55" fill="none"/>
<text class="tl" x="673.05" y="690.8" text-anchor="middle">2</text>
<polyline clip-path="url(#cp5)" points="448,586.4 455.5,574.6 459.4,572.5 464.4,570 470.8,567.5 475.8,566.4 485.8,566.8 493.7,568.7 500.8,570.1 505.8,570.5 512.3,573 516.5,575.1 523,578.7 537.2,586.5 548.6,594.6 558.4,600.8 570.9,607.6 658.4,666.9" fill="none" stroke="#262626" stroke-width="0.8" stroke-linejoin="round"/>
<circle cx="455.7" cy="569.7" r="3.15" fill="#0000ff"/><circle cx="464.5" cy="568.6" r="3.15" fill="#0000ff"/><circle cx="470.7" cy="567.6" r="3.15" fill="#0000ff"/><circle cx="615.9" cy="626" r="3.15" fill="#ff0000"/><circle cx="496.85" cy="569.3" r="3.15" fill="#ff00ff"/><circle cx="508.9" cy="570.4" r="3.15" fill="#ff00ff"/><circle cx="519.3" cy="576.4" r="3.15" fill="#ff00ff"/><circle cx="539.3" cy="588.4" r="3.15" fill="#ff0000"/><circle cx="548.8" cy="594.6" r="3.15" fill="#ff0000"/><circle cx="558.4" cy="600.8" r="3.15" fill="#ff0000"/><circle cx="570.9" cy="607.3" r="3.15" fill="#ff0000"/>
<polyline clip-path="url(#cp5)" points="464.4,569.8 470.8,567.3 475.8,565.7 485.8,565.7 494.1,566.4 504,566.6 512.3,568 521.9,571.2 529.7,573.3 658.4,611.9" fill="none" stroke="#262626" stroke-width="0.8" stroke-dasharray="9.9 8.3" stroke-dashoffset="6.08"/>
<path d="M615.9 623.5V630.8M612.9 623.5h6M612.9 630.8h6" stroke="#3a3a3a" stroke-width="0.75" fill="none"/>
<text class="sf" font-size="18" x="563.1" y="538.4" textLength="12.4" lengthAdjust="spacingAndGlyphs">W</text><text class="sf" font-size="18" x="576.5" y="538.4" textLength="12" lengthAdjust="spacingAndGlyphs">M</text><text class="sf" font-size="18" x="590" y="538.4" textLength="12.4" lengthAdjust="spacingAndGlyphs">W</text><text class="sf" font-size="18" x="616.75" y="538.4" text-anchor="middle">2</text><text class="sf" font-size="18" x="627.75" y="538.4" text-anchor="middle">0</text><text class="sf" font-size="18" x="638.75" y="538.4" text-anchor="middle">5</text><text class="sf" font-size="19.5" x="657" y="538.4" text-anchor="middle">(</text><text class="sf" font-size="18" x="661.75" y="538.4" textLength="12" lengthAdjust="spacingAndGlyphs">K</text><text class="sf" font-size="18" x="678.95" y="538.4" text-anchor="middle">3</text><text class="sf" font-size="19.5" x="687.95" y="538.4" text-anchor="middle">)</text>
<text class="sf" font-size="17.5" x="516.2" y="713.9" textLength="10.1" lengthAdjust="spacingAndGlyphs">L</text><text class="sf" font-size="17.5" x="526.12" y="713.9" textLength="9.46" lengthAdjust="spacingAndGlyphs">o</text><text class="sf" font-size="17.5" x="535.9" y="713.9" textLength="9.9" lengthAdjust="spacingAndGlyphs">g</text><text class="sf" font-size="17.5" x="554.82" y="713.9" textLength="9.66" lengthAdjust="spacingAndGlyphs">λ</text><text class="sf" font-size="19.5" x="568.55" y="713.9" text-anchor="middle">(</text><text class="sf" font-size="17.5" x="571.97" y="713.9" font-style="italic" textLength="11.56" lengthAdjust="spacingAndGlyphs">μ</text><text class="sf" font-size="17.5" x="583" y="713.9" textLength="17.3" lengthAdjust="spacingAndGlyphs">m</text><text class="sf" font-size="19.5" x="604.95" y="713.9" text-anchor="middle">)</text>
<g transform="translate(379.2 677.7) rotate(-90)"><text class="sf" font-size="17.5" x="-0.58" y="0" textLength="9.16" lengthAdjust="spacingAndGlyphs">L</text><text class="sf" font-size="17.5" x="9.23" y="0" textLength="8.93" lengthAdjust="spacingAndGlyphs">o</text><text class="sf" font-size="17.5" x="18.35" y="0" textLength="10" lengthAdjust="spacingAndGlyphs">g</text><text class="sf" font-size="17.5" x="37.69" y="0" textLength="9.12" lengthAdjust="spacingAndGlyphs">λ</text><text class="sf" font-size="17.5" x="48.33" y="0" textLength="9.84" lengthAdjust="spacingAndGlyphs">F</text><text class="sf" font-size="19.5" x="77" y="0" text-anchor="middle">(</text><text class="sf" font-size="17.5" x="81" y="0" textLength="11.3" lengthAdjust="spacingAndGlyphs">W</text><text class="sf" font-size="17.5" x="93.19" y="0" textLength="9.23" lengthAdjust="spacingAndGlyphs">a</text><text class="sf" font-size="17.5" x="103.82" y="0" textLength="6.76" lengthAdjust="spacingAndGlyphs">t</text><text class="sf" font-size="17.5" x="111.82" y="0" textLength="6.76" lengthAdjust="spacingAndGlyphs">t</text><text class="sf" font-size="17.5" x="119.2" y="0" textLength="8.3" lengthAdjust="spacingAndGlyphs">s</text><text class="sf" font-size="17.5" x="137.1" y="0" textLength="8.49" lengthAdjust="spacingAndGlyphs">c</text><text class="sf" font-size="17.5" x="147.61" y="0" textLength="14.88" lengthAdjust="spacingAndGlyphs">m</text><text class="sf" font-size="19.5" x="181.9" y="0" text-anchor="middle">)</text>
<text class="sf" font-size="11" x="61.2" y="4.5" text-anchor="middle">λ</text>
<text class="sf" font-size="11" x="168" y="-5.2" text-anchor="middle">−</text><text class="sf" font-size="11" x="175.2" y="-5.2" text-anchor="middle">2</text>
</g>
</svg>
</body></html>
